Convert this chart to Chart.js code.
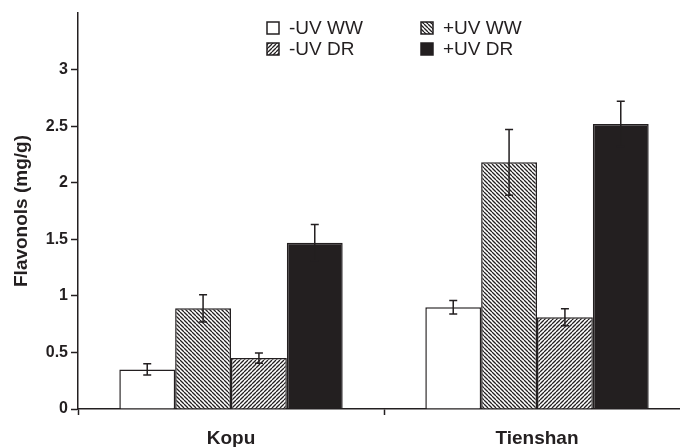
<!DOCTYPE html>
<html>
<head>
    <title>Flavonols</title>
    <script src="https://cdn.jsdelivr.net/npm/chart.js"></script>
    <style>
        html, body { margin: 0; padding: 0; background: #fff; overflow: hidden; }
        #wrap { width: 690px; height: 447px; }
    </style>
</head>
<body>
    <div id="wrap">
        <canvas id="flavChart" width="690" height="447"></canvas>
    </div>

    <script>
// data
var categories = ['Kopu', 'Tienshan'];
var seriesNames = ['-UV WW', '+UV WW', '-UV DR', '+UV DR'];

var minusUvWW = [0.35, 0.90];
var plusUvWW = [0.89, 2.18];
var minusUvDR = [0.45, 0.81];
var plusUvDR = [1.47, 2.52];

var minusUvWWErr = [0.05, 0.06];
var plusUvWWErr = [0.12, 0.29];
var minusUvDRErr = [0.045, 0.075];
var plusUvDRErr = [0.16, 0.20];

var yTicksMax = 3;

var ink = '#231f20';
var font = "'Liberation Sans', Arial, sans-serif";

var canvas = document.getElementById('flavChart');
var ctx = canvas.getContext('2d');

function hatch(dir) {
    var s = 4;
    var c = document.createElement('canvas');
    c.width = s; c.height = s;
    var g = c.getContext('2d');
    g.fillStyle = '#fff';
    g.fillRect(0, 0, s, s);
    g.strokeStyle = ink;
    g.lineWidth = 1.3;
    g.beginPath();
    for (var k = -1; k <= 1; k++) {
        if (dir === 'back') {
            g.moveTo(k * s, 0); g.lineTo(k * s + s, s);
        } else {
            g.moveTo(k * s, s); g.lineTo(k * s + s, 0);
        }
    }
    g.stroke();
    return ctx.createPattern(c, 'repeat');
}

var fills = ['#ffffff', hatch('back'), hatch('fwd'), ink];
var values = [minusUvWW, plusUvWW, minusUvDR, plusUvDR];
var errors = [minusUvWWErr, plusUvWWErr, minusUvDRErr, plusUvDRErr];

var datasets = seriesNames.map(function(name, i) {
    return {
        label: name,
        data: values[i],
        errors: errors[i],
        backgroundColor: fills[i],
        borderColor: ink,
        borderWidth: 1.5,
        borderSkipped: 'bottom',
        barPercentage: 1.0,
        categoryPercentage: 0.73
    };
});

// error bars
var errorBars = {
    id: 'errorBars',
    afterDatasetsDraw: function(chart) {
        var y = chart.scales.y;
        var c = chart.ctx;
        c.save();
        c.strokeStyle = ink;
        c.lineWidth = 1.5;
        chart.data.datasets.forEach(function(ds, i) {
            var meta = chart.getDatasetMeta(i);
            meta.data.forEach(function(bar, j) {
                var v = ds.data[j], e = ds.errors[j];
                var top = y.getPixelForValue(v + e);
                var bot = y.getPixelForValue(v - e);
                c.beginPath();
                c.moveTo(bar.x, top); c.lineTo(bar.x, bot);
                c.moveTo(bar.x - 4, top); c.lineTo(bar.x + 4, top);
                c.moveTo(bar.x - 4, bot); c.lineTo(bar.x + 4, bot);
                c.stroke();
            });
        });
        c.restore();
    }
};

// 2 x 2 legend inside the plot
var gridLegend = {
    id: 'gridLegend',
    afterDraw: function(chart) {
        var c = chart.ctx;
        var colX = [267, 421];
        var rowY = [28, 49];
        c.save();
        c.font = '19px ' + font;
        c.textBaseline = 'middle';
        chart.data.datasets.forEach(function(d, i) {
            var x = colX[i % 2], yy = rowY[Math.floor(i / 2)];
            c.fillStyle = d.backgroundColor;
            c.fillRect(x, yy - 6, 12, 12);
            c.strokeStyle = ink;
            c.lineWidth = 1.5;
            c.strokeRect(x, yy - 6, 12, 12);
            c.fillStyle = ink;
            c.fillText(d.label, x + 22, yy + 1);
        });
        c.restore();
    }
};

new Chart(canvas, {
    type: 'bar',
    data: { labels: categories, datasets: datasets },
    plugins: [errorBars, gridLegend],
    options: {
        responsive: false,
        animation: false,
        devicePixelRatio: 1,
        layout: { padding: { top: 13, right: 0, left: 0, bottom: 0 } },
        plugins: {
            legend: { display: false },
            tooltip: { enabled: false }
        },
        scales: {
            x: {
                grid: {
                    offset: true,
                    drawOnChartArea: false,
                    tickLength: 6,
                    tickColor: ink,
                    tickWidth: 1.5
                },
                border: { color: ink, width: 1.5 },
                ticks: {
                    color: ink,
                    padding: 12,
                    font: { family: font, size: 19, weight: 'bold' }
                },
                afterFit: function(s) { s.height = 38; }
            },
            y: {
                min: 0,
                max: 3.5,
                grid: {
                    drawOnChartArea: false,
                    tickLength: 7,
                    tickWidth: 1.5,
                    tickColor: function(c) {
                        return c.tick && c.tick.value > yTicksMax ? 'rgba(0,0,0,0)' : ink;
                    }
                },
                border: { color: ink, width: 1.5 },
                ticks: {
                    stepSize: 0.5,
                    color: ink,
                    padding: 3,
                    font: { family: font, size: 16, weight: 'bold' },
                    callback: function(v) { return v > yTicksMax ? '' : v; }
                },
                title: {
                    display: true,
                    text: 'Flavonols (mg/g)',
                    color: ink,
                    padding: { top: 10, bottom: 0 },
                    font: { family: font, size: 19, weight: 'bold' }
                },
                afterFit: function(s) { s.width = 78; }
            }
        }
    }
});
    </script>
</body>
</html>
